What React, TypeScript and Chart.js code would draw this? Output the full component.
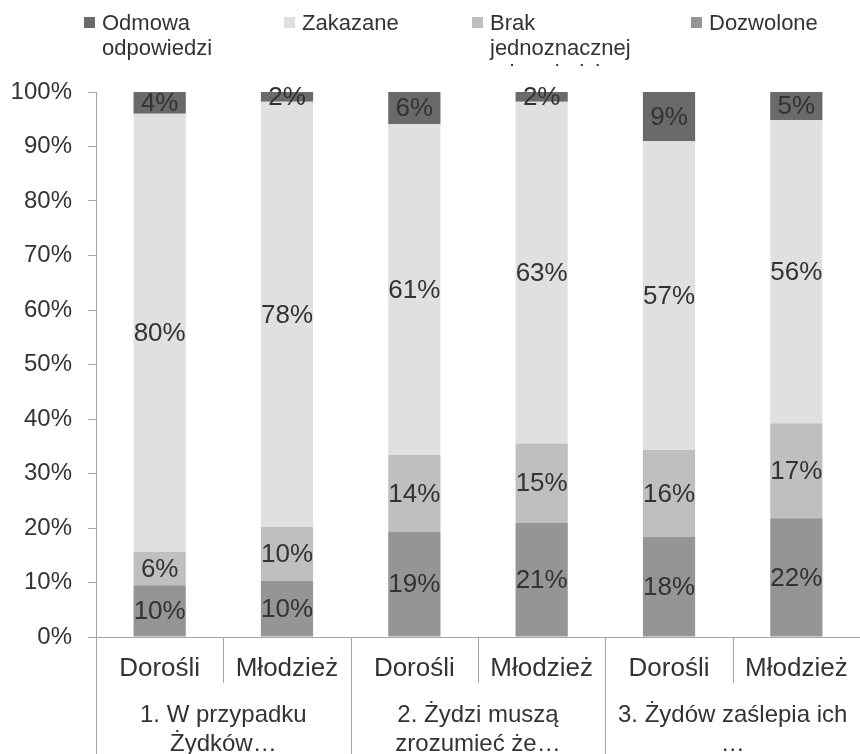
import React, { useEffect, useRef } from 'react';
import { Chart, registerables } from 'chart.js';

Chart.register(...registerables);

// ---- data ----
const categories = ['Dorośli', 'Młodzież', 'Dorośli', 'Młodzież', 'Dorośli', 'Młodzież'];
const groupLabels = [
  ['1. W przypadku', 'Żydków…'],
  ['2. Żydzi muszą', 'zrozumieć że…'],
  ['3. Żydów zaślepia ich', '…'],
];
const dozwolone = [9.5, 10.3, 19.3, 20.9, 18.4, 21.8];
const brak = [6.1, 9.9, 14.1, 14.6, 15.9, 17.4];
const zakazane = [80.4, 78.0, 60.7, 62.7, 56.7, 55.6];
const odmowa = [4.0, 1.8, 5.9, 1.8, 9.0, 5.2];
const seriesNames = ['Dozwolone', 'Brak jednoznacznej odpowiedzi', 'Zakazane', 'Odmowa odpowiedzi'];
const seriesColors = ['#959595', '#bfbfbf', '#e0e0e2', '#6a6a6a'];
// legend order as in the picture, with its wrapped lines
const legendLines = [
  ['Odmowa', 'odpowiedzi'],
  ['Zakazane'],
  ['Brak', 'jednoznacznej', 'odpowiedzi'],
  ['Dozwolone'],
];
const legendColors = ['#6a6a6a', '#e0e0e2', '#bfbfbf', '#959595'];

const FONT = 'Arial, "Liberation Sans", sans-serif';
const TEXT = '#333333';
const LINE = '#a6a6a6';

const App: React.FC = () => {
  const ref = useRef<HTMLCanvasElement | null>(null);

  useEffect(() => {
    document.body.style.margin = '0';
    const canvas = ref.current;
    if (!canvas) return;

    const labelPlugin = {
      id: 'segLabels',
      afterDatasetsDraw(chart: any) {
        const ctx = chart.ctx;
        ctx.save();
        ctx.font = `26px ${FONT}`;
        ctx.fillStyle = TEXT;
        ctx.textAlign = 'center';
        ctx.textBaseline = 'middle';
        chart.data.datasets.forEach((ds: any, di: number) => {
          const meta = chart.getDatasetMeta(di);
          meta.data.forEach((bar: any, i: number) => {
            const v = ds.data[i];
            const y = (bar.y + bar.base) / 2;
            ctx.fillText(Math.round(v) + '%', bar.x, y + 1);
          });
        });
        ctx.restore();
      },
    };

    const axisPlugin = {
      id: 'multiAxis',
      afterDraw(chart: any) {
        const ctx = chart.ctx;
        const xs = chart.scales.x;
        const area = chart.chartArea;
        const bottom = area.bottom;
        const n = categories.length;
        const step = (area.right - area.left) / n;
        ctx.save();
        ctx.strokeStyle = LINE;
        ctx.lineWidth = 1;
        // separators
        for (let k = 0; k <= n; k++) {
          const x = Math.round(area.left + k * step) + 0.5;
          const long = k % 2 === 0;
          ctx.beginPath();
          ctx.moveTo(x, bottom);
          ctx.lineTo(x, long ? chart.height : bottom + 46);
          ctx.stroke();
        }
        ctx.fillStyle = TEXT;
        ctx.textAlign = 'center';
        ctx.textBaseline = 'alphabetic';
        ctx.font = `26px ${FONT}`;
        categories.forEach((c, i) => {
          ctx.fillText(c, xs.getPixelForValue(i), bottom + 39);
        });
        ctx.font = `24px ${FONT}`;
        groupLabels.forEach((lines, g) => {
          const cx = (xs.getPixelForValue(g * 2) + xs.getPixelForValue(g * 2 + 1)) / 2;
          lines.forEach((t, li) => {
            ctx.fillText(t, cx, bottom + 85 + li * 29);
          });
        });
        // legend
        const boxX = [84, 284, 472, 691];
        ctx.save();
        ctx.beginPath();
        ctx.rect(0, 0, chart.width, 66);
        ctx.clip();
        ctx.textAlign = 'left';
        ctx.font = `22px ${FONT}`;
        legendLines.forEach((lines, i) => {
          ctx.fillStyle = legendColors[i];
          ctx.fillRect(boxX[i], 17, 11, 11);
          ctx.fillStyle = TEXT;
          lines.forEach((t, li) => {
            ctx.fillText(t, boxX[i] + 18, 30 + li * 25);
          });
        });
        ctx.restore();
        ctx.restore();
      },
    };

    const datasetsData = [dozwolone, brak, zakazane, odmowa];
    const chart = new Chart(canvas, {
      type: 'bar',
      data: {
        labels: categories,
        datasets: datasetsData.map((d, i) => ({
          label: seriesNames[i],
          data: d,
          backgroundColor: seriesColors[i],
          borderWidth: 0,
          barPercentage: 0.41,
          categoryPercentage: 1.0,
        })),
      },
      options: {
        responsive: false,
        animation: false,
        devicePixelRatio: 1,
        layout: { padding: { top: 92, bottom: 117, left: 11, right: 0 } },
        plugins: {
          legend: { display: false },
          tooltip: { enabled: false },
        },
        scales: {
          x: {
            stacked: true,
            ticks: { display: false, padding: 0 },
            grid: { display: false, drawTicks: false },
            border: { display: true, color: LINE },
            afterFit: (s: any) => { s.height = 0; },
          },
          y: {
            stacked: true,
            min: 0,
            max: 100,
            ticks: {
              stepSize: 10,
              padding: 16,
              color: TEXT,
              font: { size: 24, family: FONT },
              callback: (v: any) => v + '%',
            },
            grid: { drawOnChartArea: false, drawTicks: true, tickLength: 8, color: LINE },
            border: { display: true, color: LINE },
            afterFit: (s: any) => { s.width = 85; },
          },
        },
      },
      plugins: [labelPlugin, axisPlugin],
    });
    return () => chart.destroy();
  }, []);

  return <canvas ref={ref} width={860} height={754} style={{ display: 'block', width: 860, height: 754 }} />;
};

export default App;
